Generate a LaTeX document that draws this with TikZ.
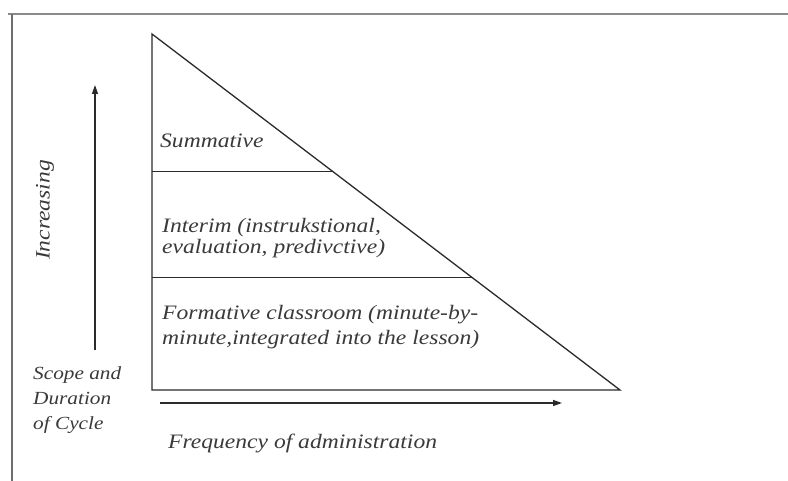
\documentclass[tikz,border=0pt]{standalone}
\usepackage{fontspec}
\setmainfont[FakeStretch=1.15]{Liberation Serif}
\usetikzlibrary{calc,arrows.meta}
\definecolor{inkline}{HTML}{2B2B2B}
\definecolor{inktext}{HTML}{3A3A3A}
\definecolor{framegray}{HTML}{8A8A8A}
\tikzset{
  edge/.style={draw=inkline, line width=1.3pt},
  axisarrow/.style={draw=inkline, line width=1.3pt, -{Triangle[length=9pt,width=6pt]}},
  label/.style={inner sep=0pt, text=inktext, font=\itshape\fontsize{20.5}{21}\selectfont, align=left},
  smalllabel/.style={label, font=\itshape\fontsize{18.5}{25}\selectfont}
}
\begin{document}
\begin{tikzpicture}[x=1pt,y=-1pt]
  \fill[white] (0,0) rectangle (788,481);
  \useasboundingbox (0,0) rectangle (788,481);

  % outer frame
  \draw[framegray, line width=2.2pt] (8,14) -- (788,14);
  \draw[framegray!80!black, line width=1.6pt] (12,14) -- (12,481);

  % triangle corners
  \coordinate (apex) at (152,34);
  \coordinate (bl) at (152,390);
  \coordinate (br) at (620,390);
  \draw[edge, line join=miter] (apex) -- (bl) -- (br) -- cycle;

  % layer dividers reaching the hypotenuse
  \coordinate (d1l) at ($(apex)!0.385!(bl)$);
  \coordinate (d1r) at ($(apex)!0.385!(br)$);
  \coordinate (d2l) at ($(apex)!0.685!(bl)$);
  \coordinate (d2r) at ($(apex)!0.685!(br)$);
  \draw[edge, line width=1.1pt] (d1l) -- (d1r);
  \draw[edge, line width=1.1pt] (d2l) -- (d2r);

  % layer texts
  \node[label, anchor=base west] (summ) at (160,148) {Summative};
  \node[label, anchor=north west] (interim) at (162,218) {Interim (instrukstional,\\evaluation, predivctive)};
  \node[label, anchor=north west, font=\itshape\fontsize{20.5}{25}\selectfont] (form) at (162,305) {Formative classroom (minute-by-\\minute,integrated into the lesson)};

  % axes
  \coordinate (vs) at (95,350);
  \coordinate (ve) at (95,85);
  \draw[axisarrow] (vs) -- (ve);
  \coordinate (hs) at (160,403);
  \coordinate (he) at (562,403);
  \draw[axisarrow] (hs) -- (he);

  % axis texts
  \node[label, rotate=90] (incr) at (45,210) {Increasing};
  \node[smalllabel, anchor=north west] (scope) at (33,366) {Scope and\\Duration\\of Cycle};
  \node[label, anchor=base west] (freq) at (168,448) {Frequency of administration};
\end{tikzpicture}
\end{document}
